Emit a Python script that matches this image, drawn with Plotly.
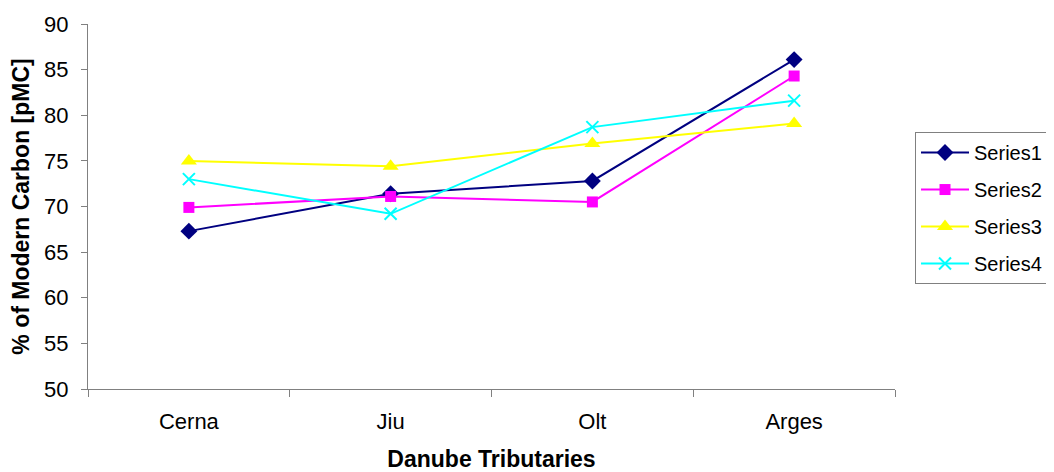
import plotly.graph_objects as go

categories = ["Cerna", "Jiu", "Olt", "Arges"]
series1 = [67.3, 71.4, 72.8, 86.1]
series2 = [69.9, 71.1, 70.5, 84.3]
series3 = [75.0, 74.4, 76.9, 79.1]
series4 = [73.0, 69.2, 78.7, 81.6]
y_ticks = [50, 55, 60, 65, 70, 75, 80, 85, 90]

fig = go.Figure()
styles = [
    ("Series1", series1, "#000080", "diamond", 13, None),
    ("Series2", series2, "#FF00FF", "square", 11, None),
    ("Series3", series3, "#FFFF00", "triangle-up", 14, None),
    ("Series4", series4, "#00FFFF", "x-thin", 12, 2),
]
for name, vals, col, sym, sz, lw in styles:
    marker = dict(symbol=sym, size=sz, color=col)
    if lw:
        marker["line"] = dict(width=lw, color=col)
    fig.add_trace(go.Scatter(x=categories, y=vals, name=name, mode="lines+markers",
                             legendgroup=name,
                             line=dict(color=col, width=2), marker=marker))

font = "Liberation Sans, Arial, sans-serif"
fig.update_layout(
    width=1046, height=464,
    margin=dict(l=80, r=159, t=16, b=83, autoexpand=False),
    paper_bgcolor="white", plot_bgcolor="white",
    font=dict(family=font, size=22, color="black"),
    xaxis=dict(
        title=dict(text="<b>Danube Tributaries</b>", font=dict(size=23), standoff=18),
        range=[-0.5, 3.5],
        showline=True, linecolor="#808080", linewidth=1,
        ticks="outside", tickson="boundaries", ticklen=7, tickcolor="#808080",
        ticklabelstandoff=13,
        showgrid=False, zeroline=False, tickfont=dict(size=22),
    ),
    yaxis=dict(
        title=dict(text="<b>% of Modern Carbon [pMC]</b>", font=dict(size=23), standoff=12),
        range=[50, 90], tickvals=y_ticks,
        showline=True, linecolor="#808080", linewidth=1,
        ticks="outside", ticklen=6, tickcolor="#808080",
        ticklabelstandoff=8,
        showgrid=False, zeroline=False, tickfont=dict(size=22),
    ),
    legend=dict(
        x=1.0248, xanchor="left", y=0.704, yanchor="top",
        bordercolor="#808080", borderwidth=1, bgcolor="white",
        font=dict(size=20), tracegroupgap=8, itemwidth=48,
    ),
)

fig.write_html("out.html")
